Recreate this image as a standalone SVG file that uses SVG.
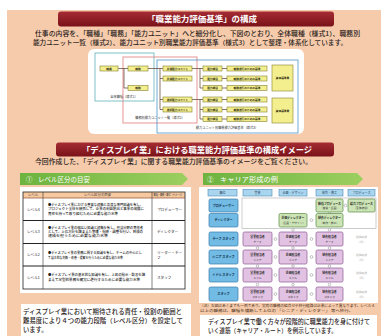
<svg xmlns="http://www.w3.org/2000/svg" width="381" height="336" viewBox="0 0 381 336">
<defs>
<linearGradient id="gTitle" x1="0" y1="0" x2="0" y2="1"><stop offset="0" stop-color="#A52C34"/><stop offset="1" stop-color="#7A1219"/></linearGradient>
<linearGradient id="gTab" x1="0" y1="0" x2="1" y2="0"><stop offset="0" stop-color="#6DB33F"/><stop offset="1" stop-color="#9CCF60"/></linearGradient>
</defs>
<style>
text{font-family:"Noto Sans CJK JP","Noto Sans",sans-serif;fill:#333}
.tt{fill:#fff;font-weight:bold;text-anchor:middle}
.p{font-size:6.3px;fill:#2a2220;font-weight:500}
.box{fill:#F3EE8E;stroke:#85822F;stroke-width:.6}
.yt{font-size:2.7px;font-weight:bold;text-anchor:middle;fill:#2d2d10}
.ln{fill:none;stroke:#5A3A2A;stroke-width:.7}
.th{font-size:3.4px;text-anchor:middle;fill:#333}
.td{font-size:3.4px;fill:#222;font-weight:500}
.lv{font-size:3.6px;fill:#222}
.hd{fill:#A9D5EE;stroke:#4B8BB9;stroke-width:.6}
.rl{fill:#72BBE4;stroke:#3A7DAE;stroke-width:.7}
.gb{fill:#CDE5B6;stroke:#5A8A45;stroke-width:.7}
.pb{fill:#E2C2E2;stroke:#8A5A93;stroke-width:.7}
.h3{font-size:3px;text-anchor:middle;fill:#1f3f60}
.r3{font-size:3.1px;font-weight:bold;text-anchor:middle;fill:#10304f}
.b1{font-size:2.9px;font-weight:bold;text-anchor:middle;fill:#222}
.b2{font-size:2.7px;text-anchor:middle;fill:#333}
.gr{font-size:2.8px;text-anchor:middle;fill:#b0b0b0}
.cc{fill:#fff;stroke:#888;stroke-width:.5}
.cap{font-size:3.8px;fill:#4a3020}
.tab{fill:#fff;font-size:6.5px}
</style>
<rect width="381" height="336" fill="#fff"/>
<rect x="7" y="10" width="374" height="326" fill="#F6CBAB"/>

<g id="title1">
<rect x="58" y="11.5" width="276" height="15" rx="3" fill="url(#gTitle)"/>
<text class="tt" x="202" y="22" font-size="8" textLength="110" lengthAdjust="spacingAndGlyphs">「職業能力評価基準」の構成</text>
</g>
<g id="intro">
<text class="p" x="35" y="35.7" textLength="325" lengthAdjust="spacingAndGlyphs">仕事の内容を、「職種」「職務」「能力ユニット」へと細分化し、下図のとおり、全体職種（様式1）、職務別</text>
<text class="p" x="33" y="44.7" textLength="314" lengthAdjust="spacingAndGlyphs">能力ユニット一覧（様式2）、能力ユニット別職業能力評価基準（様式3）として整理・体系化しています。</text>
</g>

<g id="structure-panel"><rect x="88" y="49" width="216" height="85" rx="6" fill="#fff"/></g>
<g id="frame-form1"><rect x="95" y="53" width="59" height="48" fill="none" stroke="#5FB3B8" stroke-width=".8"/><text x="124" y="98.3" font-size="3.2" fill="#1E9A80" text-anchor="middle">全体職種（様式1）</text></g>
<g id="frame-form2"><rect x="123" y="57" width="74" height="66" fill="none" stroke="#E07A7A" stroke-width=".8"/><text x="160" y="119.3" font-size="3.2" fill="#D02A2A" text-anchor="middle">職務別能力ユニット一覧（様式2）</text></g>
<g id="frame-form3"><rect x="157" y="60" width="141" height="73" fill="none" stroke="#4C93C9" stroke-width=".8"/><text x="227" y="129.3" font-size="3.2" fill="#2A64B0" text-anchor="middle">能力ユニット別職業能力評価基準（様式3）</text></g>

<g id="connectors-structure">
<path class="ln" d="M118 68.5H128M124 68.5V88H128"/>
<path class="ln" d="M148 68.5H163M160 68.5V109.5M160 78.5H163M160 99.5H163M160 109.5H163"/>
<path class="ln" d="M192 68.5H203M200 68.5V88H203M200 78.5H203"/>
<path class="ln" d="M192 99.5H203M200 99.5V119H203M200 109.5H203"/>
<path class="ln" d="M222 68.5H227M222 78.5H227M222 88H227M222 99.5H227M222 109.5H227M222 119H227"/>
</g>

<g id="n-shokushu"><rect class="box" x="100" y="66" width="18" height="5"/><text class="yt" x="109" y="69.5">職種</text></g>
<g id="n-shokumu1"><rect class="box" x="128" y="66" width="20" height="5"/><text class="yt" x="138" y="69.5">職務</text></g>
<g id="n-shokumu2"><rect class="box" x="128" y="85.5" width="20" height="5"/><text class="yt" x="138" y="89">職務</text></g>
<g id="n-unit1"><rect class="box" x="163" y="66" width="29" height="5"/><text class="yt" x="177.5" y="69.5">共通能力ユニット</text></g>
<g id="n-unit2"><rect class="box" x="163" y="76" width="29" height="5"/><text class="yt" x="177.5" y="79.5">共通能力ユニット</text></g>
<g id="n-unit3"><rect class="box" x="163" y="97" width="29" height="5"/><text class="yt" x="177.5" y="100.5">選択能力ユニット</text></g>
<g id="n-unit4"><rect class="box" x="163" y="107" width="29" height="5"/><text class="yt" x="177.5" y="110.5">選択能力ユニット</text></g>
<g id="n-saimoku1"><rect class="box" x="203" y="66" width="19" height="5"/><text class="yt" x="212.5" y="69.5">能力細目</text></g>
<g id="n-saimoku2"><rect class="box" x="203" y="76" width="19" height="5"/><text class="yt" x="212.5" y="79.5">能力細目</text></g>
<g id="n-saimoku3"><rect class="box" x="203" y="85.5" width="19" height="5"/><text class="yt" x="212.5" y="89">能力細目</text></g>
<g id="n-saimoku4"><rect class="box" x="203" y="97" width="19" height="5"/><text class="yt" x="212.5" y="100.5">能力細目</text></g>
<g id="n-saimoku5"><rect class="box" x="203" y="107" width="19" height="5"/><text class="yt" x="212.5" y="110.5">能力細目</text></g>
<g id="n-saimoku6"><rect class="box" x="203" y="116.5" width="19" height="5"/><text class="yt" x="212.5" y="120">能力細目</text></g>
<g id="n-kijun1"><rect class="box" x="227" y="66" width="40" height="5"/><text class="yt" x="247" y="69.5">職務遂行のための基準</text></g>
<g id="n-kijun2"><rect class="box" x="227" y="76" width="40" height="5"/><text class="yt" x="247" y="79.5">職務遂行のための基準</text></g>
<g id="n-kijun3"><rect class="box" x="227" y="85.5" width="40" height="5"/><text class="yt" x="247" y="89">職務遂行のための基準</text></g>
<g id="n-kijun4"><rect class="box" x="227" y="97" width="40" height="5"/><text class="yt" x="247" y="100.5">職務遂行のための基準</text></g>
<g id="n-kijun5"><rect class="box" x="227" y="107" width="40" height="5"/><text class="yt" x="247" y="110.5">職務遂行のための基準</text></g>
<g id="n-kijun6"><rect class="box" x="227" y="116.5" width="40" height="5"/><text class="yt" x="247" y="120">職務遂行のための基準</text></g>
<g id="n-big1"><rect class="box" x="272" y="65" width="21" height="26"/><text class="yt" x="282.5" y="79">評価基準書</text></g>
<g id="n-big2"><rect class="box" x="272" y="98" width="21" height="25"/><text class="yt" x="282.5" y="111.5">評価基準書</text></g>

<g id="title2">
<rect x="56" y="142.5" width="278" height="14" rx="3" fill="url(#gTitle)"/>
<text class="tt" x="197" y="152.8" font-size="8.5" textLength="230" lengthAdjust="spacingAndGlyphs">「ディスプレイ業」における職業能力評価基準の構成イメージ</text>
</g>
<text class="p" x="35" y="164" font-size="6.5" textLength="277" lengthAdjust="spacingAndGlyphs">今回作成した、「ディスプレイ業」に関する職業能力評価基準のイメージをご覧ください。</text>

<g id="tab-level"><path d="M20 173H182L188 179L182 185H20Z" fill="url(#gTab)"/><text class="tab" x="26" y="181.5">①</text><text class="tab" x="38" y="181.5" textLength="52" lengthAdjust="spacingAndGlyphs">レベル区分の目安</text></g>
<g id="tab-career"><path d="M203 173H357L363 179L357 185H203Z" fill="url(#gTab)"/><text class="tab" x="207" y="181.5">②</text><text class="tab" x="220" y="181.5" textLength="58" lengthAdjust="spacingAndGlyphs">キャリア形成の例</text></g>

<g id="level-table">
<rect x="20" y="187" width="171" height="106" fill="#fff"/>
<rect x="23" y="192" width="162" height="6" fill="#F7C9A0"/>
<rect x="23" y="192" width="162" height="97" fill="none" stroke="#222" stroke-width=".8"/>
<path d="M43 192V289M152 192V289" stroke="#333" stroke-width=".6"/>
<path d="M23 198H185" stroke="#8a4a30" stroke-width=".7"/>
<path d="M23 220.5H185M23 243.5H185M23 266H185" stroke="#222" stroke-width="1.1"/>
<text class="th" x="33" y="196.3">レベル</text>
<text class="th" x="97.5" y="196.3">レベル区分の目安</text>
<text class="th" x="168.5" y="196.3" textLength="30" lengthAdjust="spacingAndGlyphs">職種・職務・職位（イメージ）</text>
<text class="lv" x="27" y="210.5">レベル4</text>
<text class="td" x="48" y="206" textLength="95" lengthAdjust="spacingAndGlyphs">●ディスプレイ業における豊富な経験と高度な専門知識を有し、</text>
<text class="td" x="48" y="210.3" textLength="96" lengthAdjust="spacingAndGlyphs">プロジェクト全体を統括して、企業の利益創出と事業の発展に</text>
<text class="td" x="48" y="214.6" textLength="70" lengthAdjust="spacingAndGlyphs">責任を持って取り組むために必要な能力水準</text>
<text class="lv" x="157" y="210.5">プロデューサー</text>
<text class="lv" x="27" y="233.3">レベル3</text>
<text class="td" x="48" y="228.8" textLength="95" lengthAdjust="spacingAndGlyphs">●ディスプレイ業の幅広い知識と経験を有し、担当分野の責任者</text>
<text class="td" x="48" y="233.1" textLength="95" lengthAdjust="spacingAndGlyphs">として、上位方針を踏まえた管理・指導・調整を行い、目標の</text>
<text class="td" x="48" y="237.4" textLength="60" lengthAdjust="spacingAndGlyphs">達成を担うために必要な能力水準</text>
<text class="lv" x="157" y="233.3">ディレクター</text>
<text class="lv" x="27" y="256">レベル2</text>
<text class="td" x="48" y="254.2" textLength="94" lengthAdjust="spacingAndGlyphs">●ディスプレイ業の業務に関する知識を有し、チームの中心とし</text>
<text class="td" x="48" y="258.5" textLength="75" lengthAdjust="spacingAndGlyphs">て自主的な判断・改善・提案を行うために必要な能力水準</text>
<text class="lv" x="157" y="254.2">リーダー・チー</text>
<text class="lv" x="157" y="258.5">フ</text>
<text class="lv" x="27" y="278.8">レベル1</text>
<text class="td" x="48" y="276.3" textLength="97" lengthAdjust="spacingAndGlyphs">●ディスプレイ業の基本的な知識を有し、上司の指示・助言を踏</text>
<text class="td" x="48" y="280.6" textLength="92" lengthAdjust="spacingAndGlyphs">まえて定型的業務を確実に遂行するために必要な能力水準</text>
<text class="lv" x="157" y="278.8">スタッフ</text>
</g>

<g id="note-level">
<rect x="21" y="304" width="170" height="32" fill="#fff"/>
<text class="p" x="23" y="314" textLength="159" lengthAdjust="spacingAndGlyphs">ディスプレイ業において期待される責任・役割の範囲と</text>
<text class="p" x="23" y="323" textLength="160" lengthAdjust="spacingAndGlyphs">難易度により４つの能力段階（レベル区分）を設定して</text>
<text class="p" x="23" y="331.8">います。</text>
</g>

<g id="career-panel">
<rect x="199" y="187" width="179" height="116" fill="#fff"/>
<rect x="242" y="198" width="134" height="30.5" fill="none" stroke="#9a9a9a" stroke-width=".5"/>
</g>
<g id="hdr-1"><rect class="hd" x="208" y="189.5" width="29" height="6.5"/><text class="h3" x="222.5" y="193.8">職位</text></g>
<g id="hdr-2"><rect class="hd" x="243" y="189.5" width="29" height="6.5"/><text class="h3" x="257.5" y="193.8">営業</text></g>
<g id="hdr-3"><rect class="hd" x="279" y="189.5" width="28" height="6.5"/><text class="h3" x="293" y="193.8">企画・デザイン</text></g>
<g id="hdr-4"><rect class="hd" x="316" y="189.5" width="27" height="6.5"/><text class="h3" x="329.5" y="193.8">制作・施工</text></g>
<g id="hdr-5"><rect class="hd" x="348" y="189.5" width="27" height="6.5"/><text class="h3" x="361.5" y="193.8">プロデュース</text></g>

<g id="row-1"><rect class="rl" x="209" y="199" width="29" height="13" rx="1.5"/><text class="r3" x="223.5" y="206.6">プロデューサー</text></g>
<g id="row-2"><rect class="rl" x="209" y="213.5" width="29" height="13.5" rx="1.5"/><text class="r3" x="223.5" y="221.3">ディレクター</text></g>
<g id="row-3"><rect class="rl" x="209" y="232" width="29" height="14" rx="1.5"/><text class="r3" x="223.5" y="240.1">チーフ スタッフ</text></g>
<g id="row-4"><rect class="rl" x="209" y="250" width="29" height="14" rx="1.5"/><text class="r3" x="223.5" y="258.1">シニア スタッフ</text></g>
<g id="row-5"><rect class="rl" x="209" y="268" width="29" height="14" rx="1.5"/><text class="r3" x="223.5" y="276.1">ミドル スタッフ</text></g>
<g id="row-6"><rect class="rl" x="209" y="287" width="29" height="14" rx="1.5"/><text class="r3" x="223.5" y="295.1">スタッフ</text></g>

<g id="connectors-career">
<circle class="cc" cx="345.5" cy="205.5" r="1.4"/>
<circle class="cc" cx="311.5" cy="220.2" r="1.4"/>
<circle class="cc" cx="329.5" cy="212.7" r="1.1"/>
<circle class="cc" cx="293" cy="229.8" r="1.3"/>
<circle class="cc" cx="329.5" cy="229.8" r="1.3"/>
<circle class="cc" cx="275.5" cy="239" r="1.4"/><circle class="cc" cx="311.5" cy="239" r="1.4"/>
<circle class="cc" cx="275.5" cy="257" r="1.4"/><circle class="cc" cx="311.5" cy="257" r="1.4"/>
<circle class="cc" cx="275.5" cy="275" r="1.4"/><circle class="cc" cx="311.5" cy="275" r="1.4"/>
<circle class="cc" cx="275.5" cy="294" r="1.4"/><circle class="cc" cx="311.5" cy="294" r="1.4"/>
<circle class="cc" cx="257.5" cy="248" r="1.3"/><circle class="cc" cx="293" cy="248" r="1.3"/><circle class="cc" cx="329.5" cy="248" r="1.3"/>
<circle class="cc" cx="257.5" cy="266" r="1.3"/><circle class="cc" cx="293" cy="266" r="1.3"/><circle class="cc" cx="329.5" cy="266" r="1.3"/>
<circle class="cc" cx="257.5" cy="284.5" r="1.3"/><circle class="cc" cx="293" cy="284.5" r="1.3"/><circle class="cc" cx="329.5" cy="284.5" r="1.3"/>
</g>

<g id="g-r1c"><rect class="gb" x="316" y="199" width="27" height="13" rx="1.5"/><text class="b1" x="329.5" y="204.5">統括プロデュース</text><text class="b2" x="329.5" y="209.3">（営業・企画）</text></g>
<g id="g-r1d"><rect class="gb" x="348" y="199" width="27" height="13" rx="1.5"/><text class="b1" x="361.5" y="204.5">総合プロデュース</text><text class="b2" x="361.5" y="209.3">（全体統括）</text></g>
<g id="g-r2b"><rect class="gb" x="279" y="213.5" width="28" height="13.5" rx="1.5"/><text class="b1" x="293" y="219.2">企画ディレクター</text><text class="b2" x="293" y="224">（企画・デザイン）</text></g>
<g id="g-r2c"><rect class="gb" x="316" y="213.5" width="27" height="13.5" rx="1.5"/><text class="b1" x="329.5" y="219.2">制作ディレクター</text><text class="b2" x="329.5" y="224">（制作・施工）</text></g>

<g id="p-r3a"><rect class="pb" x="243" y="232" width="29" height="14" rx="1.5"/><text class="b1" x="257.5" y="237.8">営業担当者</text><text class="b2" x="257.5" y="242.6">チーフ</text></g>
<g id="p-r3b"><rect class="pb" x="279" y="232" width="28" height="14" rx="1.5"/><text class="b1" x="293" y="237.8">企画担当者</text><text class="b2" x="293" y="242.6">チーフ</text></g>
<g id="p-r3c"><rect class="pb" x="316" y="232" width="27" height="14" rx="1.5"/><text class="b1" x="329.5" y="237.8">制作担当者</text><text class="b2" x="329.5" y="242.6">チーフ</text></g>
<g id="p-r4a"><rect class="pb" x="243" y="250" width="29" height="14" rx="1.5"/><text class="b1" x="257.5" y="255.8">営業担当者</text><text class="b2" x="257.5" y="260.6">シニア</text></g>
<g id="p-r4b"><rect class="pb" x="279" y="250" width="28" height="14" rx="1.5"/><text class="b1" x="293" y="255.8">企画担当者</text><text class="b2" x="293" y="260.6">シニア</text></g>
<g id="p-r4c"><rect class="pb" x="316" y="250" width="27" height="14" rx="1.5"/><text class="b1" x="329.5" y="255.8">制作担当者</text><text class="b2" x="329.5" y="260.6">シニア</text></g>
<g id="p-r5a"><rect class="pb" x="243" y="268" width="29" height="14" rx="1.5"/><text class="b1" x="257.5" y="273.8">営業担当者</text><text class="b2" x="257.5" y="278.6">ミドル</text></g>
<g id="p-r5b"><rect class="pb" x="279" y="268" width="28" height="14" rx="1.5"/><text class="b1" x="293" y="273.8">企画担当者</text><text class="b2" x="293" y="278.6">ミドル</text></g>
<g id="p-r5c"><rect class="pb" x="316" y="268" width="27" height="14" rx="1.5"/><text class="b1" x="329.5" y="273.8">制作担当者</text><text class="b2" x="329.5" y="278.6">ミドル</text></g>
<g id="p-r6a"><rect class="pb" x="243" y="287" width="29" height="14" rx="1.5"/><text class="b1" x="257.5" y="292.8">営業担当者</text><text class="b2" x="257.5" y="297.6">スタッフ</text></g>
<g id="p-r6b"><rect class="pb" x="279" y="287" width="28" height="14" rx="1.5"/><text class="b1" x="293" y="292.8">企画担当者</text><text class="b2" x="293" y="297.6">スタッフ</text></g>
<g id="p-r6c"><rect class="pb" x="316" y="287" width="27" height="14" rx="1.5"/><text class="b1" x="329.5" y="292.8">制作担当者</text><text class="b2" x="329.5" y="297.6">スタッフ</text></g>

<g id="d-r3"><text class="gr" x="361.5" y="238">職種転換</text><text class="gr" x="361.5" y="242.5">（例）</text></g>
<g id="d-r4"><text class="gr" x="361.5" y="256">職種転換</text><text class="gr" x="361.5" y="260.5">（例）</text></g>
<g id="d-r5"><text class="gr" x="361.5" y="274">職種転換</text><text class="gr" x="361.5" y="278.5">（例）</text></g>
<g id="d-r6"><text class="gr" x="361.5" y="293">職種転換</text><text class="gr" x="361.5" y="297.5">（例）</text></g>

<g id="caption-career">
<text class="cap" x="200" y="306.5" textLength="175" lengthAdjust="spacingAndGlyphs">（注）左図はあくまでも一例であり、実際の職務の組合せや移行経路は企業によって異なります。レベル４</text>
<text class="cap" x="200" y="311.5" textLength="76" lengthAdjust="spacingAndGlyphs">以上の職務は、職種を横断して上位の</text>
<text class="cap" x="277" y="311.5" textLength="53" lengthAdjust="spacingAndGlyphs" fill="#C8302A">「シニア・ディレクター」</text>
<text class="cap" x="331" y="311.5" textLength="22" lengthAdjust="spacingAndGlyphs">等へ移行。</text>
</g>

<g id="note-career">
<rect x="200" y="315" width="177" height="21" fill="#fff"/>
<text class="p" x="208" y="323.8" font-size="6" textLength="162" lengthAdjust="spacingAndGlyphs">ディスプレイ業で働く方々が段階的に職業能力を身に付けて</text>
<text class="p" x="208" y="332.8" font-size="6" textLength="129" lengthAdjust="spacingAndGlyphs">いく道筋（キャリア・ルート）を例示しています。</text>
</g>
</svg>
